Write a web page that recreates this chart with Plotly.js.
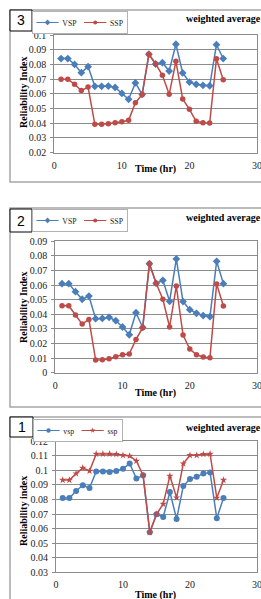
<!DOCTYPE html>
<html>
<head>
<meta charset="utf-8">
<script src="https://cdn.plot.ly/plotly-3.0.1.min.js"></script>
<style>html,body{margin:0;padding:0;background:#fff;overflow:hidden}#chart{width:261px;height:599px}</style>
</head>
<body>
<div id="chart"></div>
<script>
// ---- data ----
var time = [1,2,3,4,5,6,7,8,9,10,11,12,13,14,15,16,17,18,19,20,21,22,23,24,25];

// panel 3 (top)
var p3_vsp = [0.084,0.084,0.080,0.0744,0.0785,0.0651,0.0651,0.0653,0.0644,0.0603,0.0563,0.0674,0.0597,0.0869,0.0803,0.0812,0.0755,0.0937,0.0742,0.068,0.0665,0.0658,0.0655,0.0934,0.084];
var p3_ssp = [0.070,0.070,0.0665,0.0622,0.0646,0.0393,0.0393,0.0397,0.0404,0.0411,0.042,0.054,0.0594,0.0869,0.0803,0.0726,0.0597,0.0821,0.0565,0.0495,0.0413,0.0404,0.0402,0.0839,0.0696];

// panel 2 (middle)
var p2_vsp = [0.061,0.061,0.0555,0.0503,0.0525,0.037,0.0372,0.0379,0.0356,0.0313,0.026,0.0411,0.031,0.0747,0.0612,0.0633,0.0489,0.0779,0.0487,0.0432,0.0407,0.0391,0.0384,0.0763,0.061];
var p2_ssp = [0.0459,0.0459,0.0395,0.0333,0.0365,0.0087,0.0089,0.0096,0.011,0.0123,0.0128,0.0228,0.0308,0.0747,0.0612,0.0503,0.0313,0.0594,0.0258,0.0162,0.0123,0.0107,0.0103,0.0608,0.0457];

// panel 1 (bottom)
var p1_vsp = [0.0811,0.0811,0.0859,0.0898,0.0879,0.0992,0.0992,0.0989,0.0996,0.1012,0.1047,0.0944,0.0966,0.0575,0.0699,0.068,0.0852,0.0666,0.0893,0.0941,0.0957,0.0978,0.0985,0.0671,0.0811];
var p1_ssp = [0.0934,0.0934,0.0978,0.1017,0.0996,0.1113,0.1113,0.1113,0.1111,0.1104,0.1099,0.1065,0.0966,0.0575,0.0699,0.0769,0.0962,0.0813,0.1047,0.1104,0.1104,0.1111,0.1113,0.0811,0.0934];

var xTicks = [0,10,20,30];
var xTickText = ['0','10','20','30'];
var y3Ticks = [0.02,0.03,0.04,0.05,0.06,0.07,0.08,0.09,0.1];
var y3Text = ['0.02','0.03','0.04','0.05','0.06','0.07','0.08','0.09','0.1'];
var y2Ticks = [0,0.01,0.02,0.03,0.04,0.05,0.06,0.07,0.08,0.09];
var y2Text = ['0','0.01','0.02','0.03','0.04','0.05','0.06','0.07','0.08','0.09'];
var y1Ticks = [0.03,0.04,0.05,0.06,0.07,0.08,0.09,0.1,0.11,0.12];
var y1Text = ['0.03','0.04','0.05','0.06','0.07','0.08','0.09','0.1','0.11','0.12'];

var names3 = ['VSP','SSP'];
var names1 = ['vsp','ssp'];
var panelNumbers = ['3','2','1'];
var xTitle = 'Time (hr)';
var yTitles = ['Reliability Index','Reliability Index','Reliability index'];
var panelTitle = 'weighted average';

// ---- style ----
var BLUE = '#4a7ebb', RED = '#be4b48';
var SERIF = '"Liberation Serif", "Times New Roman", serif';
var W = 261, H = 599;
var LEG_SCALE = 0.74;
function px(x){return x/W;}
function py(y){return 1 - y/H;}

function tr(x, y, name, color, symbol, size, xa, ya, leg){
  return {x:x, y:y, name:name, type:'scatter', mode:'lines+markers',
    line:{color:color, width:1.5}, marker:{color:color, symbol:symbol, size:size},
    xaxis:xa, yaxis:ya, legend:leg, hoverinfo:'skip'};
}

var data = [
  tr(time, p3_vsp, names3[0], BLUE, 'diamond', 6, 'x', 'y', 'legend'),
  tr(time, p3_ssp, names3[1], RED, 'circle', 5.5, 'x', 'y', 'legend'),
  tr(time, p2_vsp, names3[0], BLUE, 'diamond', 6, 'x2', 'y2', 'legend2'),
  tr(time, p2_ssp, names3[1], RED, 'circle', 5.5, 'x2', 'y2', 'legend2'),
  tr(time, p1_vsp, names1[0], BLUE, 'circle', 6, 'x3', 'y3', 'legend3'),
  tr(time, p1_ssp, names1[1], RED, 'star', 5.5, 'x3', 'y3', 'legend3')
];

var tickFont = {family:SERIF, size:10, color:'#222'};
function xax(d0, anchor){
  return {domain:[d0,257/W], range:[0,30], anchor:anchor, tickvals:xTicks, ticktext:xTickText,
    showgrid:false, zeroline:false, showline:true, mirror:true, linecolor:'#8c8c8c', linewidth:1,
    ticks:'', tickfont:tickFont, ticklabelstandoff:3, ticklabeloverflow:'allow', fixedrange:true};
}
function yax(dom, range, tv, tt, anchor){
  return {domain:dom, range:range, anchor:anchor, tickvals:tv, ticktext:tt,
    showgrid:true, gridcolor:'#8c8c8c', gridwidth:1, zeroline:false,
    showline:true, mirror:true, linecolor:'#8c8c8c', linewidth:1,
    ticks:'outside', ticklen:3, tickcolor:'#8c8c8c', tickfont:tickFont,
    ticklabelstandoff:2, ticklabeloverflow:'allow', fixedrange:true};
}

function legendAt(x, y){
  return {x:px(x), y:py(y), xanchor:'left', yanchor:'top', orientation:'h',
    bgcolor:'#fff', bordercolor:'#999', borderwidth:1,
    font:{family:SERIF, size:10.5, color:'#222'}, itemwidth:30, tracegroupgap:0};
}

var shapes = [];
var annotations = [];
// outer frames
[[10,182],[208,407],[417,700]].forEach(function(f){
  shapes.push({type:'rect', xref:'paper', yref:'paper', x0:px(10), x1:1.2, y0:py(f[1]), y1:py(f[0]),
    line:{color:'#a6a6a6', width:1.5}, fillcolor:'rgba(0,0,0,0)', layer:'below'});
});
// number boxes
var boxes = [[10,32,10,31],[10,32,209,232],[10,33,417,437]];
boxes.forEach(function(b,i){
  shapes.push({type:'rect', xref:'paper', yref:'paper', x0:px(b[0]), x1:px(b[1]), y0:py(b[3]), y1:py(b[2]),
    line:{color:'#000', width:1}, fillcolor:'#fff', layer:'above'});
  annotations.push({text:panelNumbers[i], xref:'paper', yref:'paper', x:px((b[0]+b[1])/2), y:py((b[2]+b[3])/2),
    xanchor:'center', yanchor:'middle', showarrow:false, font:{family:'"Liberation Sans", Arial, sans-serif', size:14, color:'#000'}});
});
// panel titles
[[184,19],[184,217],[184,427]].forEach(function(t){
  annotations.push({text:'<b>'+panelTitle+'</b>', xref:'paper', yref:'paper', x:px(t[0]), y:py(t[1]),
    xanchor:'left', yanchor:'middle', showarrow:false, font:{family:SERIF, size:10, color:'#000'}});
});
// x titles
[[155,169],[155,393],[155,595]].forEach(function(t){
  annotations.push({text:'<b>'+xTitle+'</b>', xref:'paper', yref:'paper', x:px(t[0]), y:py(t[1]),
    xanchor:'center', yanchor:'middle', showarrow:false, font:{family:SERIF, size:10, color:'#000'}});
});
// y titles
[[23,93],[23,308],[23,511]].forEach(function(t,i){
  annotations.push({text:'<b>'+yTitles[i]+'</b>', xref:'paper', yref:'paper', x:px(t[0]), y:py(t[1]),
    xanchor:'center', yanchor:'middle', textangle:-90, showarrow:false, font:{family:SERIF, size:10, color:'#000'}});
});

var layout = {
  width:W, height:H, margin:{l:0,r:0,t:0,b:0},
  paper_bgcolor:'#fff', plot_bgcolor:'#fff', showlegend:true,
  xaxis: xax(54.3/W, 'y'),
  yaxis: yax([py(152.7), py(35)], [0.02,0.1], y3Ticks, y3Text, 'x'),
  xaxis2: xax(55.3/W, 'y2'),
  yaxis2: yax([py(372.7), py(241.3)], [0,0.09], y2Ticks, y2Text, 'x2'),
  xaxis3: xax(56/W, 'y3'),
  yaxis3: yax([py(572.3), py(441.3)], [0.03,0.12], y1Ticks, y1Text, 'x3'),
  legend: legendAt(32,11),
  legend2: legendAt(32,209),
  legend3: legendAt(33,419),
  shapes: shapes,
  annotations: annotations
};

Plotly.newPlot('chart', data, layout, {staticPlot:true, displayModeBar:false}).then(function(gd){
  // compact the legend boxes (scale about their top-left corner)
  ['legend','legend2','legend3'].forEach(function(cls){
    var g = gd.querySelector('g.' + cls);
    if(g){
      var t = g.getAttribute('transform') || '';
      g.setAttribute('transform', t + ' scale(' + LEG_SCALE + ')');
    }
  });
});
</script>
</body>
</html>
